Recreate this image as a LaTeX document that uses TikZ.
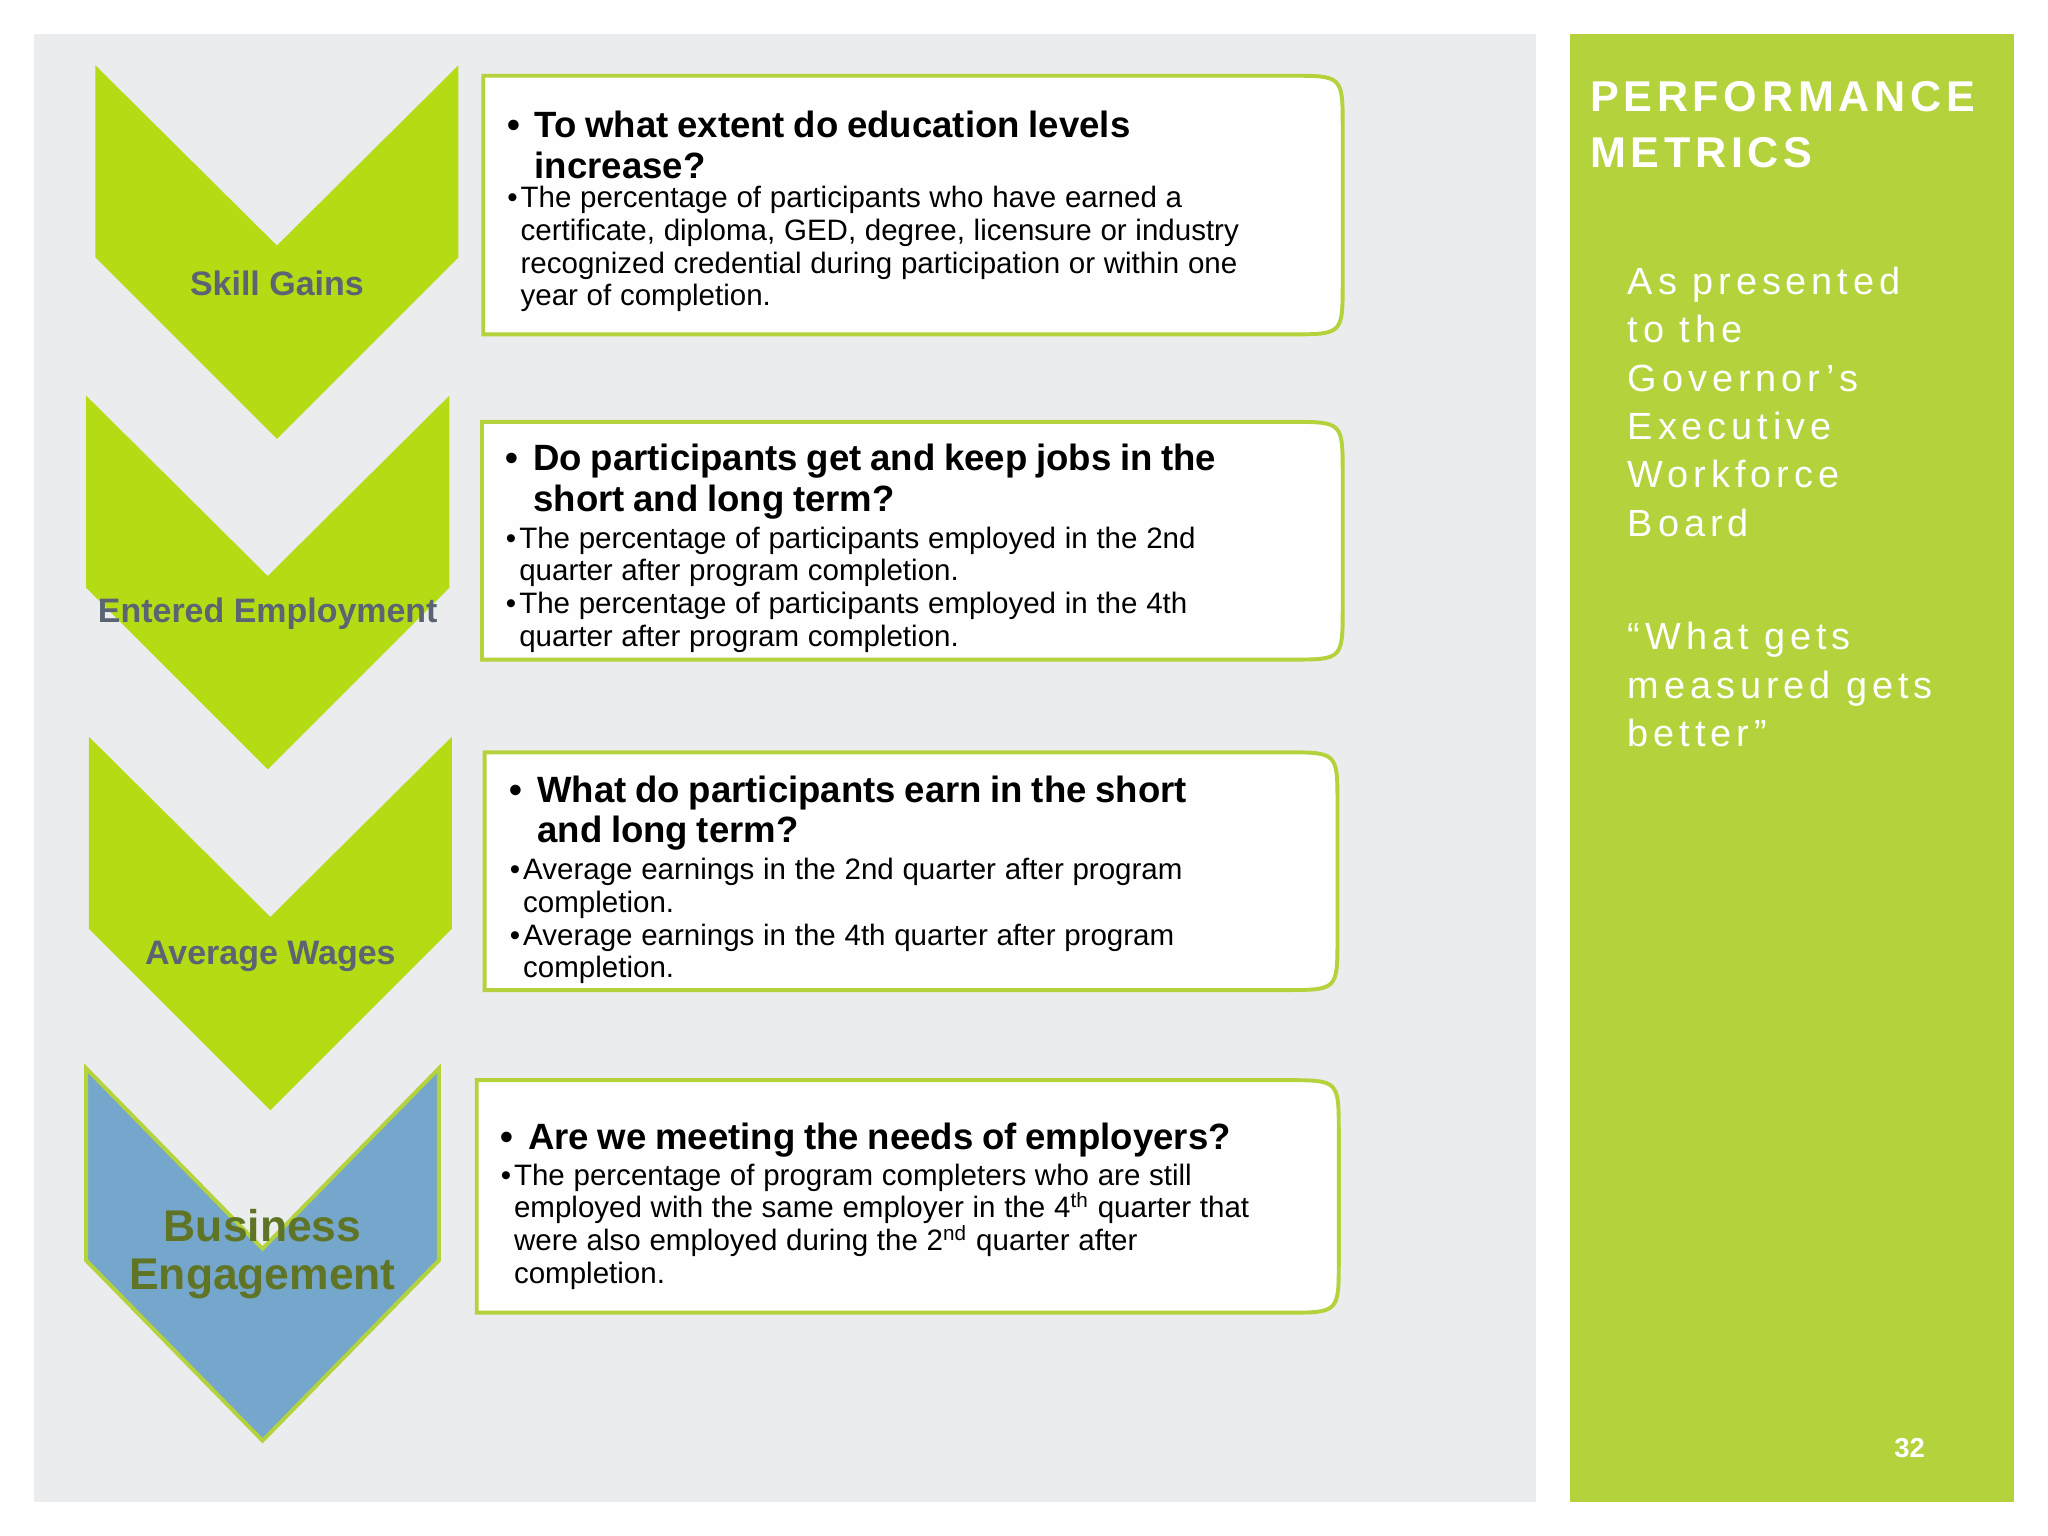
\documentclass[tikz,border=0pt]{standalone}
\usepackage{fontspec}
\setmainfont{Liberation Sans}
\definecolor{bgrey}{HTML}{EBECEE}
\definecolor{pgreen}{HTML}{B3D23B}
\definecolor{lime}{HTML}{B5DB14}
\definecolor{bblue}{HTML}{75A6CC}
\definecolor{lgrey}{HTML}{5B6472}
\definecolor{olive}{HTML}{5F7424}
\newcommand{\hb}[1]{\par\noindent\makebox[0.75em][l]{\textbullet}\parbox[t]{\dimexpr\linewidth-0.75em}{\raggedright #1}\par}
\newcommand{\bb}[1]{\par\noindent\makebox[0.45em][l]{\textbullet}\parbox[t]{\dimexpr\linewidth-0.45em}{\raggedright #1}\par}
\newcommand{\hdfont}{\fontsize{14}{15.5}\selectfont\bfseries}
\newcommand{\bdfont}{\fontsize{11.3}{12.5}\selectfont}
\tikzset{
 chev/.style={fill=lime,draw=none},
 qbox/.style={draw=pgreen,line width=1.5pt,fill=white!97!bgrey},
 clabel/.style={font=\fontsize{13}{15}\selectfont\bfseries,text=lgrey},
 btext/.style={anchor=north west,text width=318pt,align=left,inner sep=0pt},
 side/.style={anchor=north west,text=white,align=left,inner sep=0pt}
}
\newcommand{\qb}[4]{\draw[qbox] (#1,#2) -- (#3-40,#2) .. controls (#3,#2) .. (#3,#2+40) -- (#3,#4-40) .. controls (#3,#4) .. (#3-40,#4) -- (#1,#4) -- cycle;}
\begin{document}
\begin{tikzpicture}[x=0.5pt,y=-0.5pt]
\useasboundingbox (0,0) rectangle (1568,1176);
\fill[white] (0,0) rectangle (1568,1176);
\fill[bgrey] (26,26) rectangle (1176,1150);
\fill[pgreen] (1202,26) rectangle (1542,1150);
% chevrons
\fill[chev] (73,50)--(212,188)--(351,50)--(351,197)--(212,336)--(73,197)--cycle;
\fill[chev] (66,303)--(205,441)--(344,303)--(344,450)--(205,589)--(66,450)--cycle;
\fill[chev] (68,564)--(207,702)--(346,564)--(346,711)--(207,850)--(68,711)--cycle;
\filldraw[fill=bblue,draw=pgreen,line width=1.5pt] (66,818)--(201,956)--(336,818)--(336,965)--(201,1103)--(66,965)--cycle;
\node[clabel] (l1) at (212,217) {Skill Gains};
\node[clabel] (l2) at (205,470) {Entered Employment};
\node[clabel] (l3) at (207,732) {Average Wages};
\node[font=\fontsize{17}{18.5}\selectfont\bfseries,text=olive,align=center] (l4) at (201,960) {Business\\Engagement};
% boxes
\qb{370}{58}{1028}{256}
\qb{369}{323}{1028}{505}
\qb{371}{576}{1024}{758}
\qb{365}{827}{1025}{1005}
\node[btext] (t1) at (388,74) {{\hdfont\hb{To what extent do education levels\\increase?}}\vspace{2pt}
{\bdfont\bb{The percentage of participants who have earned a\\certificate, diploma, GED, degree, licensure or industry\\recognized credential during participation or within one\\year of completion.}}};
\node[btext] (t2) at (387,329) {{\hdfont\hb{Do participants get and keep jobs in the\\short and long term?}}\vspace{2pt}
{\bdfont\bb{The percentage of participants employed in the 2nd\\quarter after program completion.}\vspace{1pt}\bb{The percentage of participants employed in the 4th\\quarter after program completion.}}};
\node[btext] (t3) at (390,583) {{\hdfont\hb{What do participants earn in the short\\and long term?}}\vspace{2pt}
{\bdfont\bb{Average earnings in the 2nd quarter after program\\completion.}\vspace{1pt}\bb{Average earnings in the 4th quarter after program\\completion.}}};
\node[btext] (t4) at (383,849) {{\hdfont\hb{Are we meeting the needs of employers?}}\vspace{1pt}
{\bdfont\bb{The percentage of program completers who are still\\employed with the same employer in the 4\textsuperscript{th} quarter that\\were also employed during the 2\textsuperscript{nd} quarter after\\completion.}}};
% side panel
\node[side,font=\fontsize{16.5}{21.5}\selectfont\bfseries\addfontfeature{LetterSpace=11}] (pm) at (1217,62) {PERFORMANCE\\METRICS};
\node[side,font=\fontsize{14.5}{18.5}\selectfont\addfontfeature{LetterSpace=13}] (ap) at (1246,204) {As presented\\to the\\Governor’s\\Executive\\Workforce\\Board};
\node[side,font=\fontsize{14.5}{18.5}\selectfont\addfontfeature{LetterSpace=13}] (q) at (1246,476) {“What gets\\measured gets\\better”};
\node[text=white,font=\fontsize{10.5}{12}\selectfont\bfseries] (pg) at (1462,1109) {32};
\end{tikzpicture}
\end{document}
